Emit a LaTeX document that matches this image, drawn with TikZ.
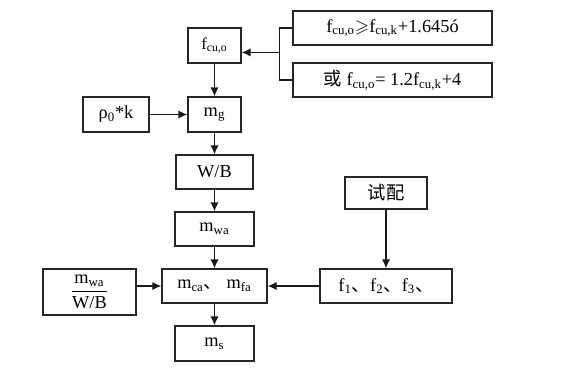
\documentclass[tikz,border=0pt]{standalone}
\usepackage{amsmath}
\usepackage{amssymb}
\usepackage{fontspec}
\setmainfont{Liberation Serif}
\newfontfamily\cjk{Noto Sans CJK SC}
\usetikzlibrary{arrows.meta, positioning, calc}
\tikzset{
  step_box/.style={rectangle, draw=black!85, line width=0.8pt, inner sep=0pt, minimum width=47.4pt, minimum height=20.4pt, font=\fontsize{11}{13}\selectfont},
  cond_box/.style={step_box, minimum width=119.4pt, font=\fontsize{11}{13}\selectfont},
  arrow/.style={-{Latex[length=5.4pt, width=5pt]}, line width=0.8pt, black!90},
  connect/.style={-, line width=0.8pt, black!90}
}

\begin{document}
\begin{tikzpicture}[x=0.6pt, y=-0.6pt]
      \useasboundingbox (0,0) rectangle (572,369);

      % --- Main Column ---
      \node[step_box, minimum width=31.8pt, minimum height=21pt, font=\fontsize{10}{12}\selectfont] (fcuo) at (214.5,45.5) {f\textsubscript{cu,o}};
      \node[step_box, minimum width=31.8pt, minimum height=21pt] (mg) at (214.5,114.5) {m\textsubscript{g}};
      \node[step_box, minimum width=46.2pt] (wb) at (214.5,172) {W/B};
      \node[step_box] (mwa) at (214.5,229) {m\textsubscript{wa}};
      \node[step_box, minimum width=63pt] (mca) at (214.5,286) {m\textsubscript{ca}{\cjk 、} m\textsubscript{fa}};
      \node[step_box, minimum height=21pt] (ms) at (214.5,343.5) {m\textsubscript{s}};

      % --- Strength Conditions ---
      \node[cond_box] (cond1) at (392.5,28) {f\textsubscript{cu,o}$\geqslant$f\textsubscript{cu,k}+1.645ó};
      \node[cond_box] (cond2) at (392.5,80) {{\cjk 或} f\textsubscript{cu,o}= 1.2f\textsubscript{cu,k}+4};
      \coordinate (brk) at ($(cond1.west)!0.47!(cond2.west) + (-13,0)$);

      % --- Side Inputs ---
      \node[step_box, minimum width=39.6pt, minimum height=21pt] (rho) at (116,114.5) {ρ\textsubscript{0}*k};
      \node[step_box, minimum width=55.8pt, minimum height=27.6pt] (ratio) at (89.5,292) {$\dfrac{\textrm{m}_{\textrm{wa}}}{\textrm{W/B}}$};
      \node[step_box, minimum width=49.2pt, minimum height=19.2pt] (trial) at (386,193) {\cjk 试配};
      \node[step_box, minimum width=79.2pt] (fvals) at (386,286) {f\textsubscript{1}{\cjk 、}f\textsubscript{2}{\cjk 、}f\textsubscript{3}{\cjk 、}};

      % --- Connections ---
      \draw[connect] (cond1.west) -| (brk) |- (cond2.west);
      \draw[arrow] (brk) -- (brk -| fcuo.east);
      \draw[arrow] (fcuo) -- (mg);
      \draw[arrow] (rho) -- (mg);
      \draw[arrow] (mg) -- (wb);
      \draw[arrow] (wb) -- (mwa);
      \draw[arrow] (mwa) -- (mca);
      \draw[arrow] (mca) -- (ms);
      \draw[arrow] (ratio.east |- mca) -- (mca);
      \draw[arrow] (fvals) -- (mca);
      \draw[arrow] (trial) -- (fvals);
\end{tikzpicture}
\end{document}
